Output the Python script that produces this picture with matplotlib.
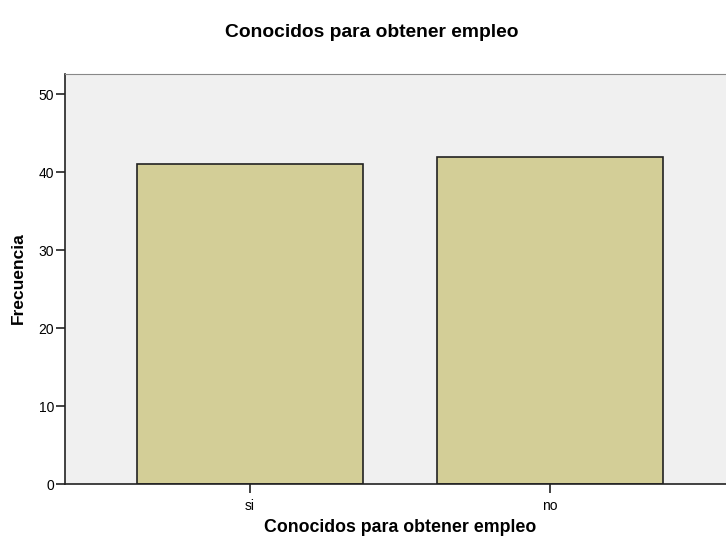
import matplotlib.pyplot as plt

categorias = ["si", "no"]
frecuencias = [41, 42]

plt.rcParams['font.family'] = ['Liberation Sans', 'DejaVu Sans']

fig = plt.figure(figsize=(7.26, 5.36), dpi=100)
ax = fig.add_axes([65 / 726, 52 / 536, 670 / 726, 410 / 536])
ax.set_facecolor('#F0F0F0')

x = range(len(categorias))
ax.bar(x, frecuencias, width=0.754, color='#D3CE97', edgecolor='#222222', linewidth=1.2, zorder=2)

ax.set_xlim(-0.615, 1.615)
ax.set_ylim(0, 52.6)
ax.set_yticks([0, 10, 20, 30, 40, 50])
ax.set_xticks(list(x))
ax.set_xticklabels(categorias)
ax.tick_params(axis='both', labelsize=10, length=6.5, width=1.2, color='#222222', direction='out', pad=1.5)
ax.tick_params(axis='x', pad=4)

ax.spines['right'].set_visible(False)
ax.spines['top'].set_color('#888888')
ax.spines['left'].set_color('#222222')
ax.spines['bottom'].set_color('#222222')
ax.spines['left'].set_linewidth(1.2)
ax.spines['bottom'].set_linewidth(1.2)

# etiquetas y titulo
fig.text(18 / 726, 1 - 278 / 536, 'Frecuencia', rotation=90, ha='center', va='center',
         fontsize=12.5, fontweight='bold')
fig.text(400 / 726, 1 - 531.5 / 536, 'Conocidos para obtener empleo', ha='center', va='baseline',
         fontsize=12.8, fontweight='bold')
fig.text(372 / 726, 1 - 36.7 / 536, 'Conocidos para obtener empleo', ha='center', va='baseline',
         fontsize=13.9, fontweight='bold')

fig.savefig('out.png', dpi=100)
